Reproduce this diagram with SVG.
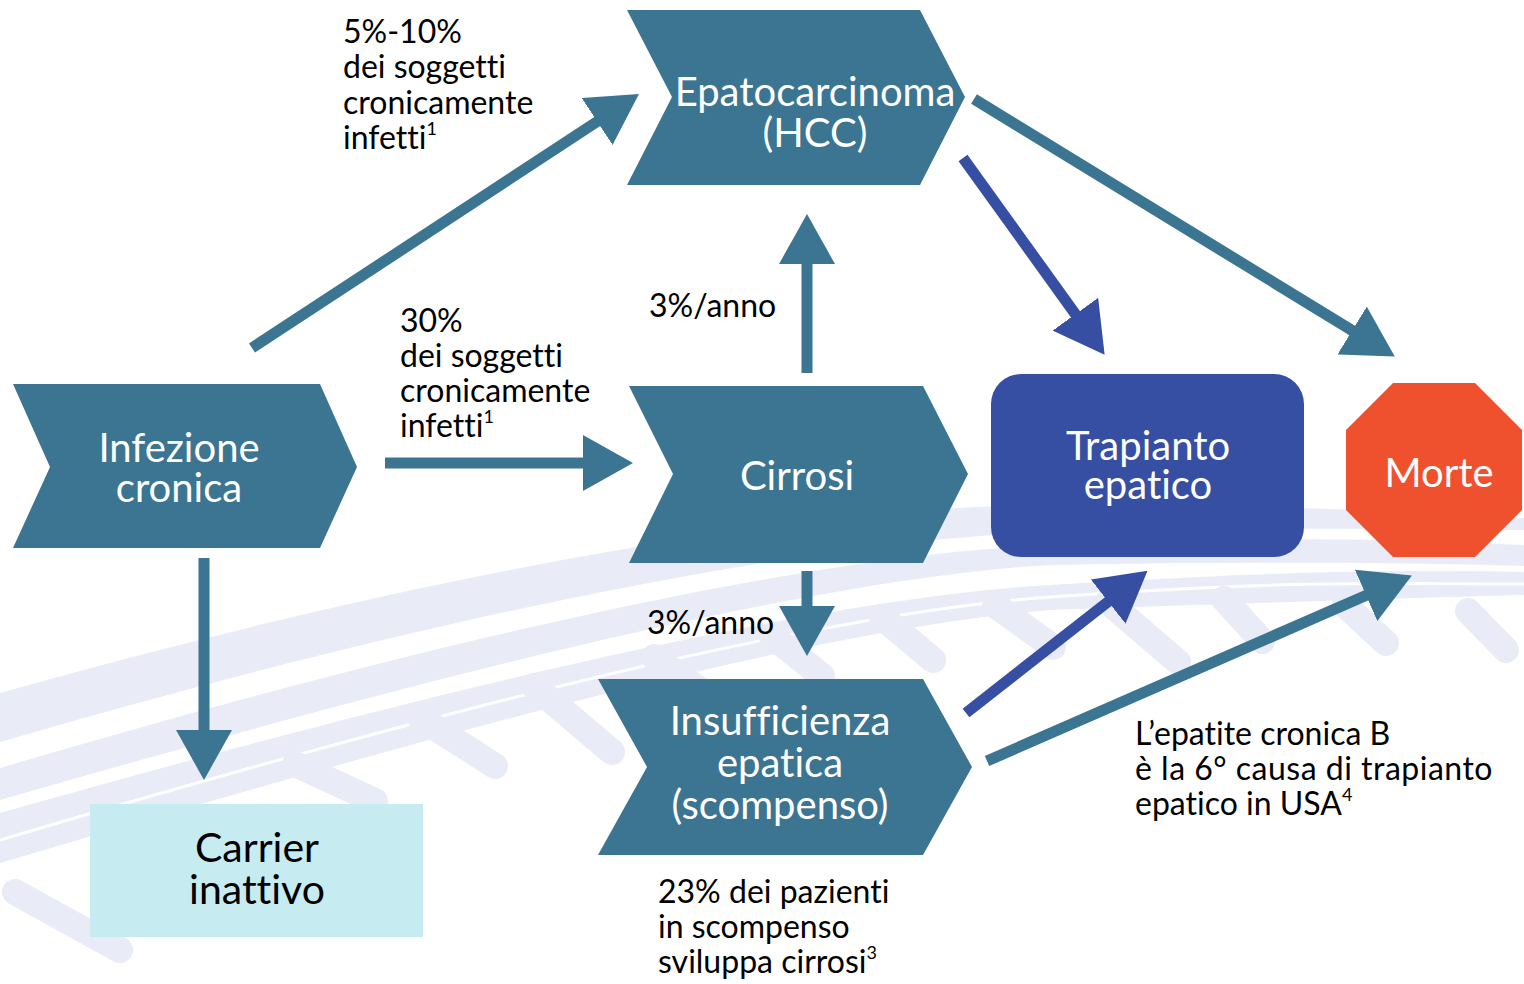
<svg xmlns="http://www.w3.org/2000/svg" width="1524" height="984" viewBox="0 0 1524 984">
<style>
.bg{fill:#e9ebf7}
.tie{stroke:#e9ebf7;stroke-width:26;stroke-linecap:round;fill:none}
.sep{stroke:#ffffff;stroke-width:3;fill:none}
.shape{fill:#3c7592}
text{font-family:Lato,"Open Sans",sans-serif;font-variant-ligatures:none}
.nt{font-size:40px;fill:#ffffff;text-anchor:middle}
.ct{font-size:41px;fill:#000000;text-anchor:middle}
.lb{font-size:32px;fill:#000000}
.sup{font-size:18px}
.at{stroke:#3c7592;stroke-width:11;fill:none}
.ab{stroke:#364fa3;stroke-width:11;fill:none}
</style>
<defs>
<marker id="ht" viewBox="0 -28 50 56" refX="1" refY="0" markerWidth="50" markerHeight="56" markerUnits="userSpaceOnUse" orient="auto"><path d="M0,-28 L50,0 L0,28 z" fill="#3c7592"/></marker>
<marker id="hb" viewBox="0 -28 50 56" refX="1" refY="0" markerWidth="50" markerHeight="56" markerUnits="userSpaceOnUse" orient="auto"><path d="M0,-28 L50,0 L0,28 z" fill="#364fa3"/></marker>
</defs>
<rect width="1524" height="984" fill="#ffffff"/>
<g id="background">
<path class="bg" d="M0,693 C400,580 800,505 1050,505 S1400,512 1524,518 L1524,530 C1400,528 1200,528 1050,532 C800,540 400,625 0,742 z"/>
<path class="bg" d="M0,768 C400,650 800,555 1050,545 S1400,540 1524,545 L1524,566 C1400,562 1200,562 1050,565 C800,580 400,685 0,800 z"/>
<path class="bg" d="M0,813 C400,700 800,600 1050,585 S1400,570 1524,572 L1524,595 C1400,598 1200,605 1050,610 C800,630 400,745 0,863 z"/>
<path class="sep" d="M0,840 C400,722 800,615 1050,597 S1400,584 1524,584"/>
<line class="tie" x1="15" y1="892" x2="120" y2="950"/>
<line class="tie" x1="295" y1="764" x2="375" y2="801"/>
<line class="tie" x1="420" y1="718" x2="495" y2="766"/>
<line class="tie" x1="534" y1="686" x2="612" y2="752"/>
<line class="tie" x1="654" y1="657" x2="700" y2="690"/>
<line class="tie" x1="772" y1="636" x2="822" y2="676"/>
<line class="tie" x1="882" y1="617" x2="933" y2="660"/>
<line class="tie" x1="995" y1="605" x2="1053" y2="647"/>
<line class="tie" x1="1108" y1="602" x2="1178" y2="662"/>
<line class="tie" x1="1224" y1="599" x2="1262" y2="641"/>
<line class="tie" x1="1345" y1="605" x2="1386" y2="643"/>
<line class="tie" x1="1468" y1="611" x2="1506" y2="650"/>
</g>
<g id="connectors">
<line class="at" x1="252" y1="348" x2="598" y2="121" marker-end="url(#ht)"/>
<line class="at" x1="385" y1="463" x2="584" y2="463" marker-end="url(#ht)"/>
<line class="at" x1="807" y1="373" x2="807" y2="263" marker-end="url(#ht)"/>
<line class="at" x1="807" y1="571" x2="807" y2="607" marker-end="url(#ht)"/>
<line class="at" x1="204" y1="558" x2="204" y2="731" marker-end="url(#ht)"/>
<line class="ab" x1="963" y1="158" x2="1076" y2="315" marker-end="url(#hb)"/>
<line class="at" x1="974" y1="99" x2="1353" y2="331" marker-end="url(#ht)"/>
<line class="ab" x1="966" y1="713" x2="1109" y2="601" marker-end="url(#hb)"/>
<line class="at" x1="987" y1="761" x2="1367" y2="595" marker-end="url(#ht)"/>
</g>
<g id="labels">
<text class="lb" x="343" y="43">5%-10%<tspan x="343" dy="35">dei soggetti</tspan><tspan x="343" dy="36">cronicamente</tspan><tspan x="343" dy="35">infetti</tspan><tspan class="sup" dy="-14">1</tspan></text>
<text class="lb" x="400" y="332">30%<tspan x="400" dy="35">dei soggetti</tspan><tspan x="400" dy="35">cronicamente</tspan><tspan x="400" dy="35">infetti</tspan><tspan class="sup" dy="-14">1</tspan></text>
<text class="lb" x="649" y="317">3%/anno</text>
<text class="lb" x="647" y="634">3%/anno</text>
<text class="lb" x="658" y="903">23% dei pazienti<tspan x="658" dy="35">in scompenso</tspan><tspan x="658" dy="35">sviluppa cirrosi</tspan><tspan class="sup" dy="-14">3</tspan></text>
<text class="lb" x="1135" y="745">L’epatite cronica B<tspan x="1135" dy="35" letter-spacing="0.5">è la 6° causa di trapianto</tspan><tspan x="1135" dy="35">epatico in USA</tspan><tspan class="sup" dy="-14">4</tspan></text>
</g>
<g id="node-infezione">
<polygon class="shape" points="13,384 320,384 357,467 320,548 13,548 50,467"/>
<text class="nt" x="179" y="462">Infezione<tspan x="179" dy="40">cronica</tspan></text>
</g>
<g id="node-hcc">
<polygon class="shape" points="627,10 920,10 965,97 920,185 627,185 672,97"/>
<text class="nt" x="815" y="106">Epatocarcinoma<tspan x="815" dy="41">(HCC)</tspan></text>
</g>
<g id="node-cirrosi">
<polygon class="shape" points="629,386 923,386 968,474 923,563 629,563 673,474"/>
<text class="nt" x="797" y="490">Cirrosi</text>
</g>
<g id="node-insufficienza">
<polygon class="shape" points="598,679 923,679 972,767 923,855 598,855 647,767"/>
<text class="nt" x="780" y="735">Insufficienza<tspan x="780" dy="42">epatica</tspan><tspan x="780" dy="42">(scompenso)</tspan></text>
</g>
<g id="node-trapianto">
<rect x="991" y="374" width="313" height="183" rx="30" ry="30" fill="#364fa3"/>
<text class="nt" x="1148" y="460">Trapianto<tspan x="1148" dy="39">epatico</tspan></text>
</g>
<g id="node-morte">
<polygon points="1393,383 1475,383 1522,430 1522,510 1475,557 1393,557 1346,510 1346,430" fill="#ef512f"/>
<text class="nt" x="1439" y="487">Morte</text>
</g>
<g id="node-carrier">
<rect x="90" y="804" width="333" height="133" fill="#c6ebf1"/>
<text class="ct" x="257" y="862">Carrier<tspan x="257" dy="42">inattivo</tspan></text>
</g>
</svg>
